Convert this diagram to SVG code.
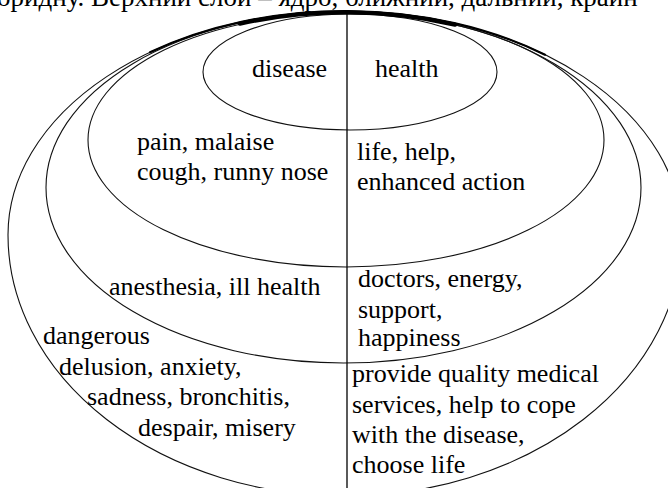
<svg xmlns="http://www.w3.org/2000/svg" width="668" height="488" viewBox="0 0 668 488">
<rect width="668" height="488" fill="#ffffff"/>
<g id="rings" fill="none" stroke="#111" stroke-width="1.1">
  <ellipse id="ring-core" cx="350" cy="72" rx="147" ry="58"/>
  <ellipse id="ring-near" cx="346" cy="140" rx="258" ry="127"/>
  <ellipse id="ring-far" cx="343.5" cy="187.5" rx="297.5" ry="175.5"/>
  <path id="ring-outer" d="M 8,235 A 337,224 0 0,1 682,235 A 337,261 0 0,1 8,235 Z"/>
  <path stroke="#000" stroke-linecap="round" stroke-width="2.2" d="M 150,52.3 A 337,224 0 0,1 545,54.7"/>
  <path stroke="#000" stroke-linecap="round" stroke-width="4" d="M 240,22.2 A 337,224 0 0,1 455,23.3" transform="translate(0,1.5)"/>
</g>
<g id="connectors">
  <line x1="347" y1="12" x2="347" y2="488" stroke="#000" stroke-width="1.3"/>
</g>
<g id="core-disease"><text x="252" y="77" font-family="Liberation Serif" font-size="26">disease</text></g>
<g id="core-health"><text x="375" y="77" font-family="Liberation Serif" font-size="26">health</text></g>
<g id="near-disease">
  <text x="137" y="150" font-family="Liberation Serif" font-size="26">pain, malaise</text>
  <text x="137" y="180" font-family="Liberation Serif" font-size="26">cough, runny nose</text>
</g>
<g id="near-health">
  <text x="357" y="160" font-family="Liberation Serif" font-size="26">life, help,</text>
  <text x="357" y="190" font-family="Liberation Serif" font-size="26">enhanced action</text>
</g>
<g id="far-disease">
  <text x="109" y="295" font-family="Liberation Serif" font-size="26">anesthesia, ill health</text>
</g>
<g id="far-health">
  <text x="358" y="287" font-family="Liberation Serif" font-size="26">doctors, energy,</text>
  <text x="358" y="318" font-family="Liberation Serif" font-size="26">support,</text>
  <text x="358" y="346" font-family="Liberation Serif" font-size="26">happiness</text>
</g>
<g id="outer-disease">
  <text x="43" y="344" font-family="Liberation Serif" font-size="26">dangerous</text>
  <text x="59" y="375" font-family="Liberation Serif" font-size="26">delusion, anxiety,</text>
  <text x="87" y="405" font-family="Liberation Serif" font-size="26">sadness, bronchitis,</text>
  <text x="138" y="436" font-family="Liberation Serif" font-size="26">despair, misery</text>
</g>
<g id="outer-health">
  <text x="352" y="382" font-family="Liberation Serif" font-size="26">provide quality medical</text>
  <text x="352" y="413" font-family="Liberation Serif" font-size="26">services, help to cope</text>
  <text x="352" y="443" font-family="Liberation Serif" font-size="26">with the disease,</text>
  <text x="352" y="473" font-family="Liberation Serif" font-size="26">choose life</text>
</g>
<text x="-3" y="6" font-family="Liberation Serif" font-size="27">оридну. Верхний слой – ядро, ближний, дальний, крайн</text>
</svg>
